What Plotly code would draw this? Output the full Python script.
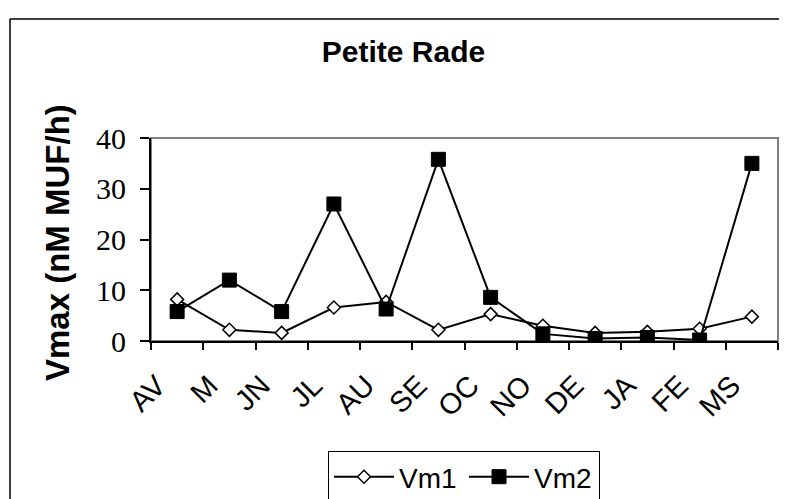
import plotly.graph_objects as go

# Monthly Vmax values, Petite Rade
months = ["AV", "M", "JN", "JL", "AU", "SE", "OC", "NO", "DE", "JA", "FE", "MS"]
vm1 = [8.2, 2.2, 1.6, 6.6, 7.7, 2.2, 5.3, 3.0, 1.6, 1.8, 2.4, 4.8]
vm2 = [5.8, 12.0, 5.8, 27.0, 6.3, 35.8, 8.6, 1.4, 0.5, 0.7, 0.2, 35.0]
y_ticks = [0, 10, 20, 30, 40]

# the page body has an 8px margin, so the figure is drawn 8px in from the corner
OFF = 8
W, H = 787 - OFF, 499 - OFF
L, T = 151 - OFF, 138 - OFF
R, B = W - (778 - OFF), H - (341 - OFF)
pw, ph = W - L - R, H - T - B

fig = go.Figure()
fig.add_trace(go.Scatter(
    x=months, y=vm1, name="Vm1", mode="lines+markers",
    line=dict(color="black", width=2),
    marker=dict(symbol="diamond", size=10, color="white",
                line=dict(color="black", width=1.5)),
))
fig.add_trace(go.Scatter(
    x=months, y=vm2, name="Vm2", mode="lines+markers",
    line=dict(color="black", width=2),
    marker=dict(symbol="square", size=14, color="black",
                line=dict(color="black", width=1)),
))

# grey top/right frame of the plot area
fig.add_shape(type="rect", xref="paper", yref="paper", x0=0, x1=1, y0=0, y1=1,
              line=dict(color="#808080", width=2), layer="below")
# outer chart border: only its left and top edges fall inside the picture
bx = (10 - OFF - L) / pw
by = 1 + (T - (19 - OFF)) / ph
fig.add_shape(type="line", xref="paper", yref="paper", x0=bx, x1=bx, y0=-1, y1=by,
              line=dict(color="black", width=1.5))
fig.add_shape(type="line", xref="paper", yref="paper", x0=bx, x1=1.2, y0=by, y1=by,
              line=dict(color="black", width=1.5))

fig.add_annotation(text="<b>Vmax (nM MUF/h)</b>", textangle=-90,
                   xref="paper", yref="paper", x=(57 - OFF - L) / pw,
                   y=(T + ph - (243 - OFF)) / ph,
                   xanchor="center", yanchor="middle", showarrow=False,
                   font=dict(family="Liberation Sans, Arial", size=33, color="black"))

fig.update_layout(
    width=W, height=H,
    margin=dict(l=L, r=R, t=T, b=B),
    paper_bgcolor="white", plot_bgcolor="white",
    title=dict(text="<b>Petite Rade</b>", x=(403.5 - OFF) / W, xref="container",
               xanchor="center", y=1 - (51.5 - OFF) / H, yref="container", yanchor="middle",
               font=dict(family="Liberation Sans, Arial", size=30, color="black")),
    showlegend=True,
    legend=dict(orientation="h", xref="container", yref="container",
                x=(464 - OFF) / W, xanchor="center", y=1 - (451 - OFF) / H, yanchor="top",
                bordercolor="black", borderwidth=1, bgcolor="white",
                font=dict(family="Liberation Sans, Arial", size=28, color="black"),
                itemwidth=60, entrywidth=60),
)
fig.update_xaxes(
    type="category", range=[-0.5, 11.5], tickson="boundaries",
    ticks="outside", ticklen=7, tickcolor="black", tickwidth=1.5,
    showline=True, linecolor="black", linewidth=2, showgrid=False,
    tickangle=-45, automargin=False, ticklabelstandoff=14, ticklabelshift=-20,
    tickfont=dict(family="Liberation Sans, Arial", size=29, color="black"),
)
fig.update_yaxes(
    range=[0, 40], tickvals=y_ticks, ticks="outside", ticklen=9,
    tickcolor="black", tickwidth=1.5, showline=True, linecolor="black", linewidth=2,
    showgrid=False, zeroline=False, automargin=False, ticklabelstandoff=8,
    tickfont=dict(family="Liberation Serif, Times New Roman", size=30, color="black"),
)

fig.write_html("out.html")
